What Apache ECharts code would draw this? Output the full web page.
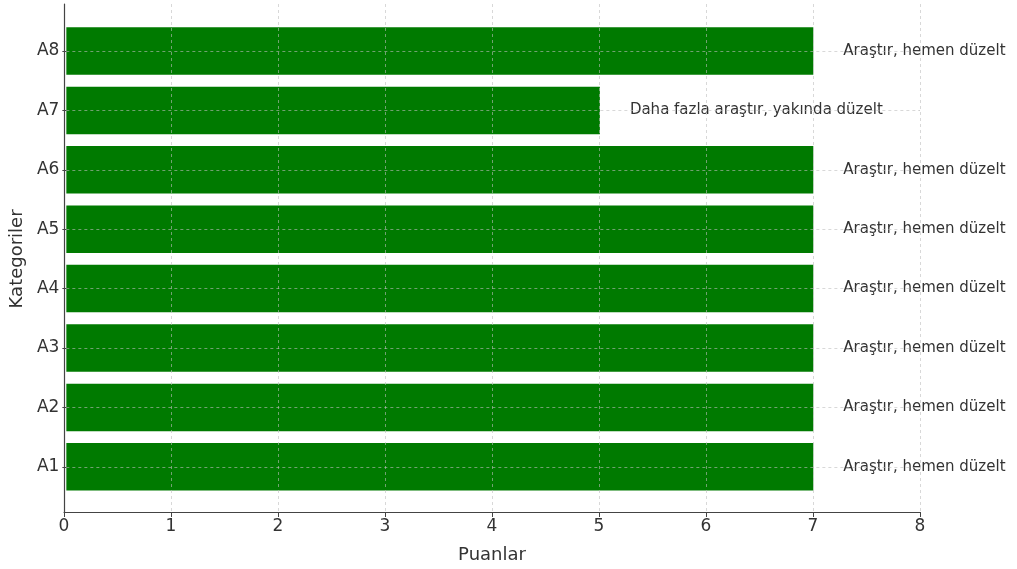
<!DOCTYPE html>
<html><head><meta charset="utf-8">
<script src="https://cdn.jsdelivr.net/npm/echarts@6/dist/echarts.min.js"></script>
<style>html,body{margin:0;padding:0;background:#fff}#c{width:1017px;height:569px}</style>
</head><body><div id="c"></div>
<script>
const categories = ['A1','A2','A3','A4','A5','A6','A7','A8'];
const scores = [7,7,7,7,7,7,5,7];
const notes = ['Araştır, hemen düzelt','Araştır, hemen düzelt','Araştır, hemen düzelt','Araştır, hemen düzelt','Araştır, hemen düzelt','Araştır, hemen düzelt','Daha fazla araştır, yakında düzelt','Araştır, hemen düzelt'];
const xTicks = [0,1,2,3,4,5,6,7,8];

const FONT = 'DejaVu Sans';
const grid = 'rgba(190,190,190,0.75)';
const chart = echarts.init(document.getElementById('c'));
chart.setOption({
  animation:false,
  textStyle:{fontFamily:FONT},
  grid:[
    {left:64,right:97,top:4,bottom:55},
    {left:64,right:97,top:21.3,height:475.2}
  ],
  xAxis:[
    {gridIndex:0,type:'value',min:xTicks[0],max:xTicks[xTicks.length-1],interval:1,z:10,
     name:'Puanlar',nameLocation:'middle',nameGap:34,nameTextStyle:{fontSize:18,color:'#333',fontFamily:FONT},
     axisLine:{lineStyle:{color:'#444',width:1.2}},
     axisTick:{show:true,length:5,lineStyle:{color:'#444'}},
     axisLabel:{fontSize:17,color:'#333',margin:6,fontFamily:FONT},
     splitLine:{show:true,lineStyle:{color:grid,type:[3,3],width:0.8}}},
    {gridIndex:1,type:'value',min:xTicks[0],max:xTicks[xTicks.length-1],show:false}
  ],
  yAxis:[
    {gridIndex:0,type:'value',min:0,max:1,position:'left',z:11,
     axisLine:{show:true,lineStyle:{color:'#444',width:1.2}},
     axisTick:{show:false},axisLabel:{show:false},splitLine:{show:false}},
    {gridIndex:1,type:'category',data:categories,position:'left',z:11,
     name:'Kategoriler',nameLocation:'middle',nameGap:36,nameRotate:90,
     nameTextStyle:{fontSize:18,color:'#333',fontFamily:FONT},
     axisLine:{show:false},
     axisTick:{show:true,alignWithLabel:true,length:4,lineStyle:{color:'#444'}},
     axisLabel:{fontSize:17,color:'#333',margin:7,fontFamily:FONT},
     splitLine:{show:false}}
  ],
  series:[{
    type:'bar',xAxisIndex:1,yAxisIndex:1,data:scores,barCategoryGap:'20%',
    itemStyle:{color:'#007a00'},
    label:{show:true,position:'right',distance:30,fontSize:15,color:'#333',fontFamily:FONT,
      formatter:p=>notes[p.dataIndex]},
    markLine:{silent:true,symbol:'none',label:{show:false},z:5,
      lineStyle:{color:grid,type:[3,3],width:0.8},
      data:categories.map(c=>[{xAxis:xTicks[0],yAxis:c},{xAxis:xTicks[xTicks.length-1],yAxis:c}])}
  }]
});
</script></body></html>
